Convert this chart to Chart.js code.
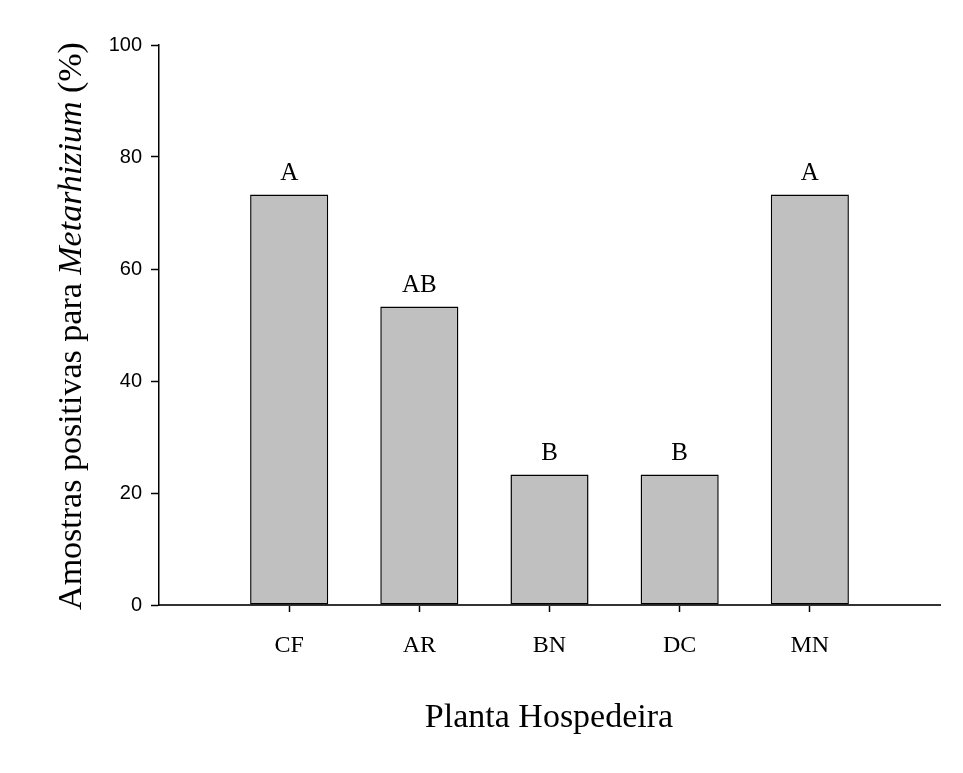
<!DOCTYPE html>
<html>
<head>
<meta charset="utf-8">
<script src="https://cdn.jsdelivr.net/npm/chart.js@4/dist/chart.umd.min.js"></script>
<style>
  html, body { margin: 0; padding: 0; background: #ffffff; }
  #wrap { width: 963px; height: 773px; }
</style>
</head>
<body>
<div id="wrap"><canvas id="c" width="963" height="773"></canvas></div>
<script>
// Host plants (empty slots pad the axis at both ends)
const categories = ['', 'CF', 'AR', 'BN', 'DC', 'MN', ''];
// Percentage of positive samples per host plant
const positives = [null, 73.3, 53.3, 23.3, 23.3, 73.3, null];
// Significance letters shown above each bar
const letters = ['', 'A', 'AB', 'B', 'B', 'A', ''];
const yTicks = [0, 20, 40, 60, 80, 100];

const serif = '"Liberation Serif", "Times New Roman", serif';
const sans = '"Liberation Sans", Arial, sans-serif';

const annotate = {
  id: 'annotate',
  afterDatasetsDraw(chart) {
    const ctx = chart.ctx;
    const meta = chart.getDatasetMeta(0);
    ctx.save();
    ctx.fillStyle = '#000';
    ctx.font = '25px ' + serif;
    ctx.textAlign = 'center';
    ctx.textBaseline = 'alphabetic';
    meta.data.forEach((bar, i) => {
      if (positives[i] == null) return;
      ctx.fillText(letters[i], bar.x, bar.y - 15);
    });
    ctx.restore();
  },
  afterDraw(chart) {
    const ctx = chart.ctx;
    const area = chart.chartArea;
    ctx.save();
    ctx.fillStyle = '#000';
    // x axis title
    ctx.font = '34px ' + serif;
    ctx.textAlign = 'center';
    ctx.textBaseline = 'alphabetic';
    ctx.fillText('Planta Hospedeira', 549, 727);
    // y axis title with italic genus name
    const parts = [
      { t: 'Amostras positivas para ', f: '34px ' + serif },
      { t: 'Metarhizium', f: 'italic 34px ' + serif },
      { t: ' (%)', f: '34px ' + serif }
    ];
    let total = 0;
    parts.forEach(p => { ctx.font = p.f; p.w = ctx.measureText(p.t).width; total += p.w; });
    ctx.translate(81, 326);
    ctx.rotate(-Math.PI / 2);
    ctx.textAlign = 'left';
    let x = -total / 2;
    parts.forEach(p => { ctx.font = p.f; ctx.fillText(p.t, x, 0); x += p.w; });
    ctx.restore();
  }
};

new Chart(document.getElementById('c'), {
  type: 'bar',
  data: {
    labels: categories,
    datasets: [{
      data: positives,
      backgroundColor: '#c0c0c0',
      borderColor: '#000',
      borderWidth: 1.5,
      borderSkipped: false,
      categoryPercentage: 0.6,
      barPercentage: 1.0
    }]
  },
  options: {
    responsive: false,
    animation: false,
    devicePixelRatio: 1,
    layout: { padding: { left: 0, right: 23, top: 45, bottom: 0 } },
    plugins: { legend: { display: false }, tooltip: { enabled: false } },
    scales: {
      x: {
        type: 'category',
        offset: false,
        afterFit(s) { s.height = 168; },
        grid: {
          display: true,
          offset: false,
          drawOnChartArea: false,
          drawTicks: true,
          tickLength: 7,
          tickWidth: 1.5,
          tickColor: ctx => (categories[ctx.index] ? '#000' : 'rgba(0,0,0,0)')
        },
        border: { display: true, color: '#333', width: 2 },
        ticks: {
          autoSkip: false,
          maxRotation: 0,
          padding: 19,
          color: '#000',
          font: { family: serif, size: 24 }
        }
      },
      y: {
        min: 0,
        max: 100,
        afterFit(s) { s.width = 159; },
        afterBuildTicks(s) { s.ticks = yTicks.map(v => ({ value: v })); },
        grid: {
          display: true,
          drawOnChartArea: false,
          drawTicks: true,
          tickLength: 8,
          tickWidth: 1.5,
          tickColor: '#000'
        },
        border: { display: true, color: '#000', width: 1.5 },
        ticks: {
          padding: 9,
          color: '#000',
          font: { family: sans, size: 20 }
        }
      }
    }
  },
  plugins: [annotate]
});
</script>
</body>
</html>
